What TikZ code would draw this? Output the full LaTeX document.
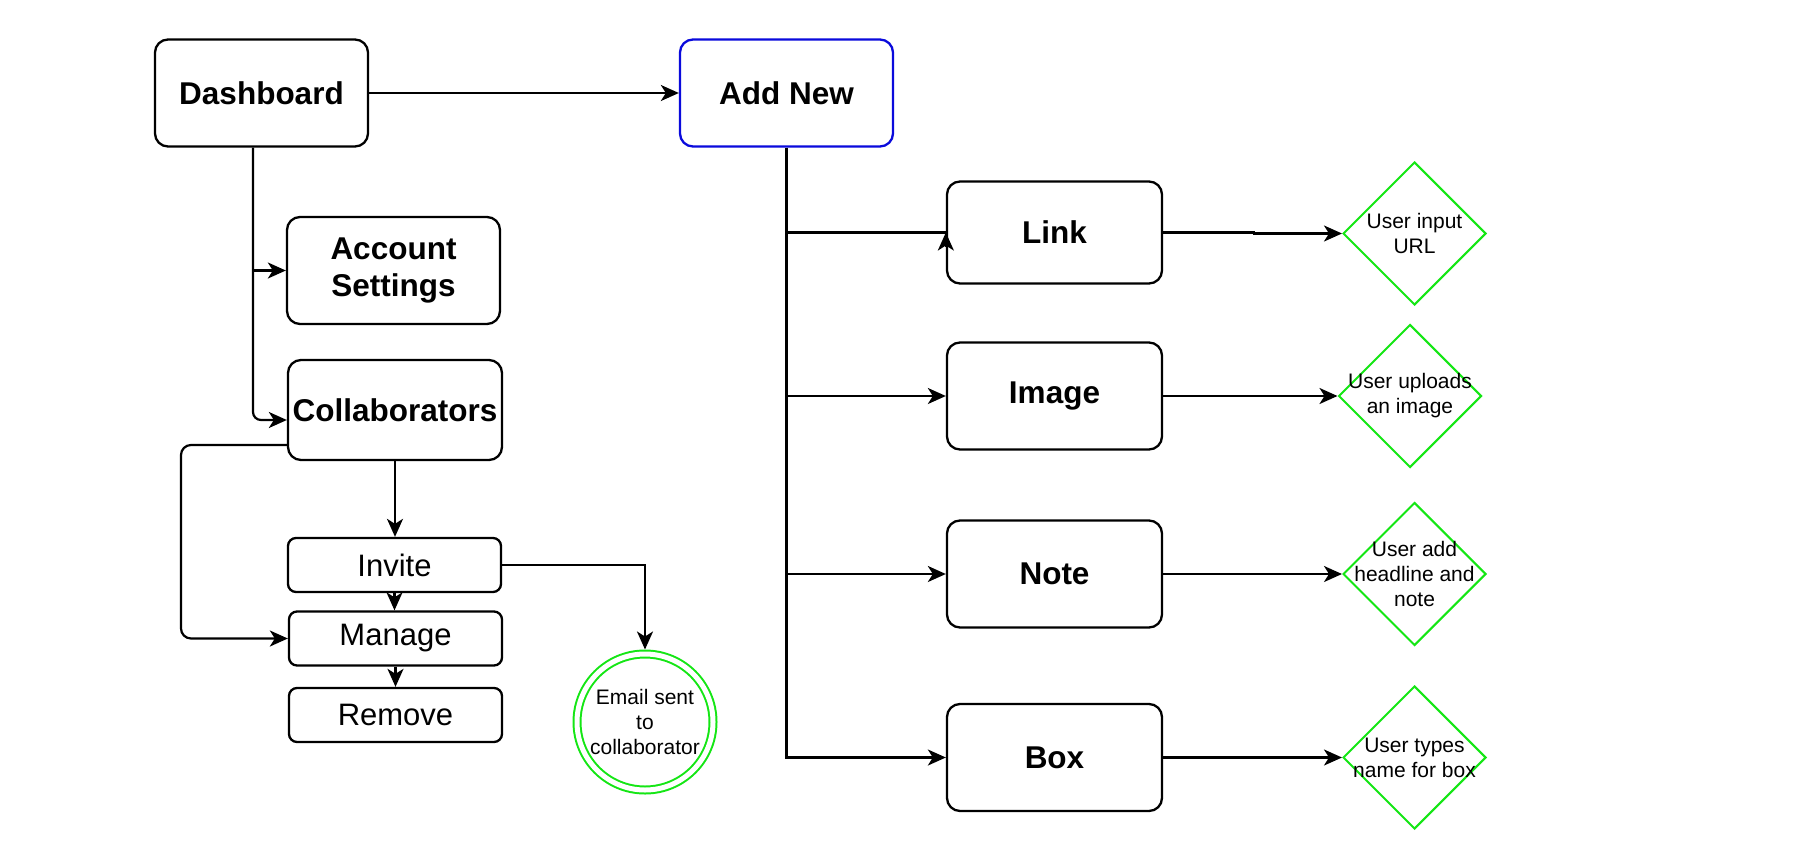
\documentclass[tikz,border=0pt]{standalone}
\usepackage{fontspec}
\setmainfont{Liberation Sans}
\usetikzlibrary{shapes.geometric,arrows.meta}
\definecolor{dgreen}{RGB}{20,230,20}
\definecolor{dblue}{RGB}{10,10,220}
\tikzset{
 bigbox/.style={draw=black, line width=2.3pt, rounded corners=13pt, minimum width=213pt, minimum height=107pt, inner sep=0pt, font=\fontsize{31.5}{37}\selectfont\bfseries, align=center},
 smallbox/.style={draw=black, line width=2.3pt, rounded corners=8pt, minimum width=213pt, minimum height=54pt, inner sep=0pt, font=\fontsize{31}{36}\selectfont},
 dia/.style={draw=dgreen, line width=2pt, diamond, minimum width=143pt, minimum height=143pt, inner sep=0pt},
 diatext/.style={font=\fontsize{21}{25}\selectfont, align=center, inner sep=0pt},
 conn/.style={line width=2.2pt, -{Stealth[length=18pt,width=16pt,inset=5pt]}},
 plain/.style={line width=2.2pt},
}
\begin{document}
\begin{tikzpicture}[x=1pt,y=-1pt]
\fill[white] (0,0) rectangle (1800,860);
\useasboundingbox (0,0) rectangle (1800,860);
% left column
\node[bigbox] (dash) at (261.5,93) {Dashboard};
\node[bigbox, draw=dblue] (addnew) at (786.5,93) {Add New};
\node[bigbox] (acc) at (393.5,270.5) {Account\\Settings};
\node[bigbox, minimum width=214pt, minimum height=100pt] (collab) at (395,410) {Collaborators};
\node[smallbox] (invite) at (394.5,565) {Invite};
\node[smallbox] (manage) at (395.5,638.5) {Manage};
\node[smallbox] (remove) at (395.5,715) {Remove};
\node[circle, draw=dgreen, line width=2pt, double=white, double distance=5pt, minimum size=136pt, diatext, outer sep=4.5pt] (email) at (645,722) {Email sent\\to\\collaborator};
% right column
\node[bigbox, minimum width=215pt, minimum height=102pt] (linkn) at (1054.5,232.5) {Link};
\node[bigbox, minimum width=215pt] (imagen) at (1054.5,396) {Image};
\node[bigbox, minimum width=215pt] (noten) at (1054.5,574) {Note};
\node[bigbox, minimum width=215pt] (boxn) at (1054.5,757.5) {Box};
\node[dia] (d1) at (1414.5,233.5) {};
\node[diatext] (t1) at (d1.center) {User input\\URL};
\node[dia] (d2) at (1410,396) {};
\node[diatext] (t2) at (d2.center) {User uploads\\an image};
\node[dia] (d3) at (1414.5,574) {};
\node[diatext] (t3) at (d3.center) {User add\\headline and\\note};
\node[dia] (d4) at (1414.5,757.5) {};
\node[diatext] (t4) at (d4.center) {User types\\name for box};
% connectors left
\draw[conn] (dash.east) -- (addnew.west);
\coordinate (dtrunk) at ([xshift=-8.5pt]dash.south);
\draw[conn, rounded corners=8pt] (dtrunk) |- ([yshift=-10pt]collab.west);
\draw[conn] (dtrunk |- acc.west) -- (acc.west);
\coordinate (loopx) at (181,540);
\draw[conn, rounded corners=10pt] ([yshift=-35pt]collab.west) -| (loopx) |- (manage.west);
\draw[conn] (collab.south) -- (collab.south |- invite.north);
\draw[conn] (invite.south) -- (invite.south |- manage.north);
\draw[conn] (manage.south) -- (remove.north);
\draw[conn] (invite.east) -| (email.north);
% connectors right
\draw[conn] (addnew.south) |- (boxn.west);
\draw[plain] (addnew.south |- linkn.west) -- (linkn.west);
\draw[conn] ([yshift=-14pt]linkn.west) -- (linkn.west);
\draw[conn] (addnew.south |- imagen.west) -- (imagen.west);
\draw[conn] (addnew.south |- noten.west) -- (noten.west);
\draw[conn] (linkn.east) -- ++(91,0) |- (d1.west);
\draw[conn] (imagen.east) -- (d2.west);
\draw[conn] (noten.east) -- (d3.west);
\draw[conn] (boxn.east) -- (d4.west);
\end{tikzpicture}
\end{document}
